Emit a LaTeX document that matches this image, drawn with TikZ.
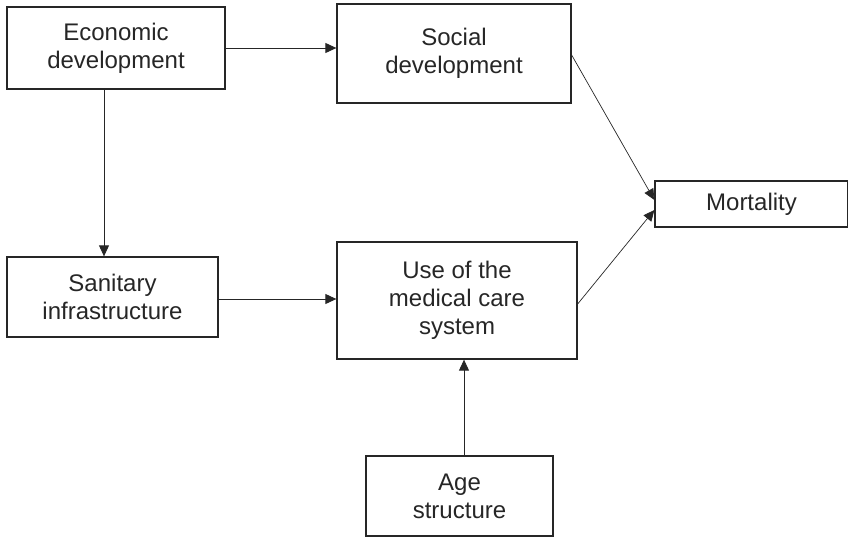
\documentclass[tikz,border=0pt]{standalone}
\usepackage{fontspec}
\setmainfont{Liberation Sans}
\usetikzlibrary{arrows.meta}
\definecolor{ink}{HTML}{262626}
\begin{document}
\begin{tikzpicture}[x=1pt,y=-1pt,
  box/.style={draw=ink, line width=1.3pt, rectangle, inner sep=0pt,
    align=center, text=ink, font=\fontsize{24}{28}\selectfont},
  arr/.style={draw=ink, line width=0.9pt,
    -{Triangle[length=11pt,width=10pt]}},
  darr/.style={draw=ink, line width=0.7pt,
    -{Triangle[length=11pt,width=10pt]}}]
  \useasboundingbox (0,0) rectangle (848,538);

  % boxes
  \node[box, minimum width=218pt, minimum height=82pt] (econ) at (116,48)
    {Economic\\development};
  \node[box, minimum width=234pt, minimum height=99pt] (social) at (454,53.5)
    {Social\\development};
  \node[box, minimum width=193pt, minimum height=46pt] (mort) at (751.5,204)
    {Mortality};
  \node[box, minimum width=211pt, minimum height=80pt] (sani) at (112.5,297)
    {Sanitary\\infrastructure};
  \node[box, minimum width=240pt, minimum height=117pt] (use) at (457,300.5)
    {Use of the\\medical care\\system};
  \node[box, minimum width=187pt, minimum height=80pt] (age) at (459.5,496)
    {Age\\structure};

  % connectors
  \draw[arr] (econ.east) -- (econ.east -| social.west);
  \draw[arr] ([xshift=-12pt]econ.south) -- ([xshift=-12pt]econ.south |- sani.north);
  \draw[arr] ([yshift=-2pt]sani.east) -- ([yshift=-2pt]sani.east -| use.west);
  \draw[arr] ([xshift=4.5pt]age.north) -- ([xshift=4.5pt]age.north |- use.south);
  \draw[darr] ([yshift=-1.5pt]social.east) -- ([yshift=4pt]mort.west);
  \draw[darr] ([yshift=-3.5pt]use.east) -- ([yshift=-6pt]mort.west);
\end{tikzpicture}
\end{document}
